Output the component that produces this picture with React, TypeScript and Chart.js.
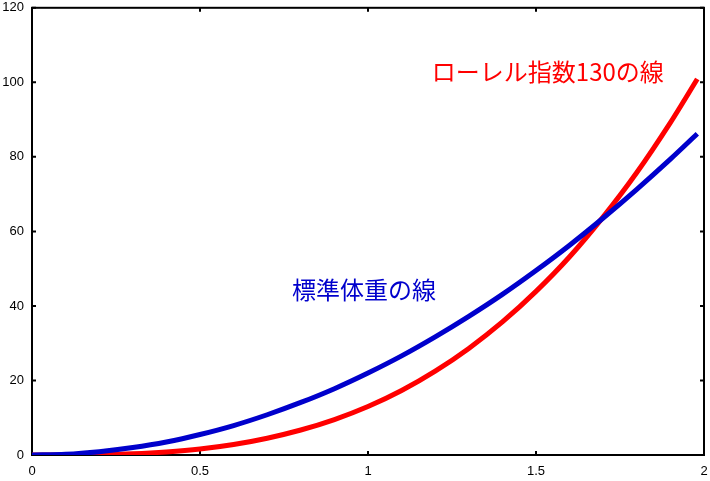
import React, { useEffect, useRef } from "react";
import { Chart, registerables } from "chart.js";

Chart.register(...registerables);

const heights = [0, 0.1, 0.2, 0.3, 0.4, 0.5, 0.6, 0.7, 0.8, 0.9, 1.0, 1.1, 1.2, 1.3, 1.4, 1.5, 1.6, 1.7, 1.8, 1.9, 1.98];
const standardWeight = [0, 0.2, 0.9, 2.0, 3.5, 5.5, 7.9, 10.8, 14.1, 17.8, 22.0, 26.6, 31.7, 37.2, 43.1, 49.5, 56.3, 63.6, 71.3, 79.4, 86.2];
const rohrerWeight = [0, 0.01, 0.1, 0.35, 0.83, 1.6, 2.8, 4.5, 6.7, 9.5, 13.0, 17.3, 22.5, 28.6, 35.7, 43.9, 53.2, 63.9, 75.8, 89.2, 100.9];
const xTicks = ["0", "0.5", "1", "1.5", "2"];
const yTicks = [0, 20, 40, 60, 80, 100, 120];

const blueLabel = "標準体重の線";
const redLabel = "ローレル指数130の線";
const blueLabelAt = [0.774, 44.2];
const redLabelAt = [1.19, 102.8];

const BLUE = "#0000cc";
const RED = "#ff0000";

export default function App() {
  const ref = useRef<HTMLCanvasElement | null>(null);

  useEffect(() => {
    const canvas = ref.current;
    if (!canvas) return;

    const framePlugin = {
      id: "frame",
      beforeDatasetsDraw(chart: any) {
        const { ctx, chartArea: a, scales } = chart;
        ctx.save();
        ctx.strokeStyle = "#000";
        ctx.lineWidth = 2;
        ctx.strokeRect(a.left, a.top, a.right - a.left, a.bottom - a.top);
        ctx.beginPath();
        const tl = 4;
        for (let i = 0; i < xTicks.length; i++) {
          const px = scales.x.getPixelForValue(parseFloat(xTicks[i]));
          ctx.moveTo(px, a.bottom);
          ctx.lineTo(px, a.bottom - tl);
          ctx.moveTo(px, a.top);
          ctx.lineTo(px, a.top + tl);
        }
        for (const v of yTicks) {
          const py = scales.y.getPixelForValue(v);
          ctx.moveTo(a.left, py);
          ctx.lineTo(a.left + tl, py);
          ctx.moveTo(a.right, py);
          ctx.lineTo(a.right - tl, py);
        }
        ctx.stroke();
        ctx.restore();
      },
      afterDatasetsDraw(chart: any) {
        const { ctx, scales } = chart;
        ctx.save();
        ctx.font = '24px "Noto Sans CJK JP"';
        ctx.textBaseline = "middle";
        ctx.textAlign = "left";
        ctx.fillStyle = RED;
        ctx.fillText(redLabel, scales.x.getPixelForValue(redLabelAt[0]), scales.y.getPixelForValue(redLabelAt[1]));
        ctx.fillStyle = BLUE;
        ctx.fillText(blueLabel, scales.x.getPixelForValue(blueLabelAt[0]), scales.y.getPixelForValue(blueLabelAt[1]));
        ctx.restore();
      },
    };

    const chart = new Chart(canvas, {
      type: "line",
      data: {
        datasets: [
          {
            label: blueLabel,
            data: heights.map((h, i) => ({ x: h, y: standardWeight[i] })),
            borderColor: BLUE,
            backgroundColor: BLUE,
            borderWidth: 5,
            pointRadius: 0,
            tension: 0.3,
            fill: false,
          },
          {
            label: redLabel,
            data: heights.map((h, i) => ({ x: h, y: rohrerWeight[i] })),
            borderColor: RED,
            backgroundColor: RED,
            borderWidth: 5,
            pointRadius: 0,
            tension: 0.3,
            fill: false,
          },
        ],
      },
      options: {
        responsive: false,
        animation: false,
        devicePixelRatio: 1,
        layout: { autoPadding: false, padding: { top: 7, right: 6, left: 0, bottom: 0 } },
        plugins: { legend: { display: false }, tooltip: { enabled: false } },
        scales: {
          x: {
            type: "linear",
            min: 0,
            max: 2,
            grid: { display: false, drawTicks: true, tickLength: 9 },
            border: { display: false },
            ticks: {
              stepSize: 0.5,
              autoSkip: false,
              maxRotation: 0,
              padding: 0,
              color: "#000",
              font: { family: '"Liberation Sans", Arial, sans-serif', size: 13 },
              callback: (v: any) => {
                const s = String(Math.round(Number(v) * 10) / 10);
                return xTicks.includes(s) ? s : "";
              },
            },
            afterFit: (s: any) => {
              s.height = 26;
            },
          },
          y: {
            type: "linear",
            min: 0,
            max: 120,
            grid: { display: false, drawTicks: true, tickLength: 8 },
            border: { display: false },
            ticks: {
              stepSize: 20,
              padding: 0,
              color: "#000",
              font: { family: '"Liberation Sans", Arial, sans-serif', size: 13 },
            },
            afterFit: (s: any) => {
              s.width = 32;
            },
          },
        },
      },
      plugins: [framePlugin],
    });

    return () => chart.destroy();
  }, []);

  return (
    <div style={{ position: "fixed", left: 0, top: 0, width: 710, height: 481, background: "#fff" }}>
      <canvas ref={ref} width={710} height={481} style={{ display: "block", width: 710, height: 481 }} />
    </div>
  );
}
